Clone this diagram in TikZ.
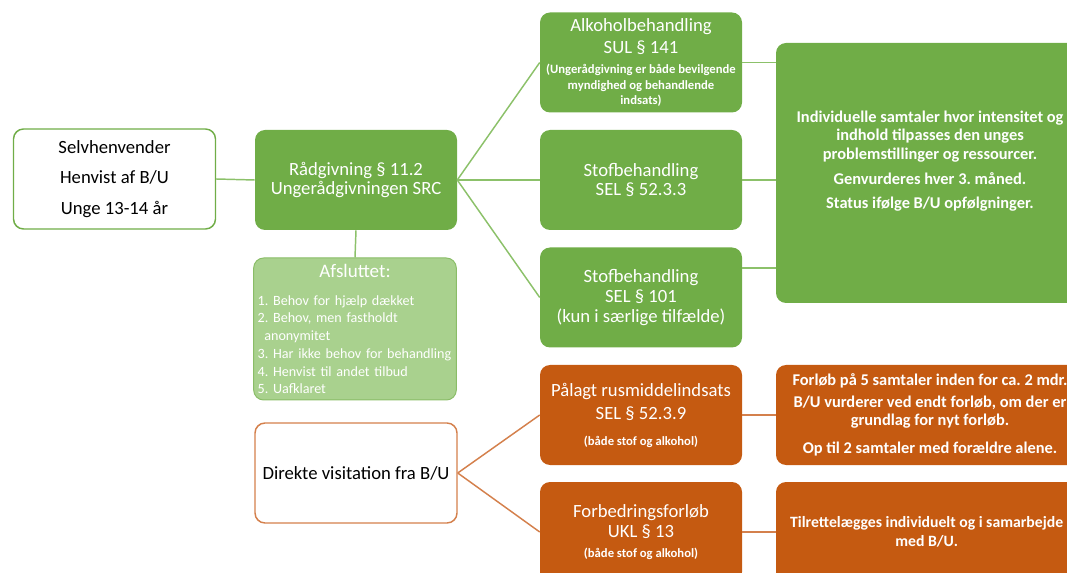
\documentclass[tikz,border=0pt]{standalone}
\usepackage{fontspec}
\setmainfont{Carlito}
\usetikzlibrary{positioning}

\definecolor{grn}{HTML}{70AD47}
\definecolor{lgrn}{HTML}{A9D18E}
\definecolor{orng}{HTML}{C55A11}
\definecolor{grnline}{HTML}{8CC16A}
\definecolor{orline}{HTML}{D4804C}

\newcommand{\smtxt}[1]{{\fontsize{9.5}{11}\selectfont\bfseries #1}}

\tikzset{
  box/.style={rounded corners=7.5pt, minimum width=151.5pt, minimum height=75pt,
    align=center, inner sep=2pt, font=\fontsize{14}{14.5}\selectfont},
  gbox/.style={box, fill=grn, text=white},
  obox/.style={box, fill=orng, text=white},
  wbox/.style={box, fill=white, text=black, line width=1.1pt},
  widebox/.style={rounded corners=7.5pt, minimum width=231pt, text=white},
  infotxt/.style={align=center, text=white, font=\fontsize{12.3}{14}\selectfont\bfseries},
  gline/.style={draw=grnline, line width=1.1pt},
  oline/.style={draw=orline, line width=1.1pt},
}

\begin{document}
\frenchspacing
\begin{tikzpicture}[x=0.75pt,y=-0.75pt]
\useasboundingbox (0,0) rectangle (1067,573);
\clip (0,0) rectangle (1067,573);

% left column
\node[wbox, draw=grn] (sel) at (114.5,179) {Selvhenvender\\[8.5pt] Henvist af B/U\\[8.5pt] Unge 13-14 år};
\node[gbox] (raad) at (356,180) {Rådgivning § 11.2\\ Ungerådgivningen SRC};
\node[box, fill=lgrn, draw=grn!55!lgrn, line width=0.75pt, text=white, align=left,
  text width=146pt, inner xsep=3pt, minimum height=106.5pt,
  font=\fontsize{10.6}{13.3}\selectfont] (afs) at (355,329)
  {\makebox[146pt][c]{\fontsize{14.3}{14}\selectfont Afsluttet:}\\[7.7pt]
   1. Behov for hjælp dækket\\
   2. Behov, men fastholdt\\
   \hspace*{5pt}anonymitet\\
   3. Har ikke behov for behandling\\
   4. Henvist til andet tilbud\\
   5. Uafklaret};
\node[wbox, draw=orline] (dir) at (356,473) {Direkte visitation fra B/U};

% middle column
\node[gbox] (alko) at (641,62.5) {Alkoholbehandling\\[2pt] SUL § 141\\[0.5pt]
  \smtxt{(Ungerådgivning er både bevilgende}\\[-2.5pt]
  \smtxt{myndighed og behandlende}\\[-3pt]
  \smtxt{indsats)}};
\node[gbox] (stof1) at (641,180) {Stofbehandling\\ SEL § 52.3.3};
\node[gbox] (stof2) at (641,297.5) {Stofbehandling\\[0.5pt] SEL § 101\\[0.5pt] (kun i særlige tilfælde)};
\node[obox] (paa) at (641,415) {Pålagt rusmiddelindsats\\[2.75pt] SEL § 52.3.9\\[5pt]
  \smtxt{(både stof og alkohol)}};
\node[obox] (forb) at (641,532) {Forbedringsforløb\\[0.5pt] UKL § 13\\[0.5pt]
  \smtxt{(både stof og alkohol)}};

% right column
\node[widebox, fill=grn, minimum height=195pt] (gbig) at (930,173) {};
\node[infotxt] (gtxt) at ([yshift=9pt]gbig.center)
  {Individuelle samtaler hvor intensitet og\\[-0.5pt]
   indhold tilpasses den unges\\
   problemstillinger og ressourcer.\\[4.5pt]
   Genvurderes hver 3. måned.\\[4pt]
   Status ifølge B/U opfølgninger.};
\node[widebox, fill=orng, minimum height=75pt, infotxt] (otop) at (930,415)
  {Forløb på 5 samtaler inden for ca. 2 mdr.\\[2.5pt]
   B/U vurderer ved endt forløb, om der er\\
   grundlag for nyt forløb.\\[7pt]
   Op til 2 samtaler med forældre alene.};
\node[widebox, fill=orng, minimum height=75pt] (obot) at (930,532) {};
\node[infotxt, font=\fontsize{11.8}{14}\selectfont\bfseries] (obtxt) at ([xshift=-2.5pt]obot.center)
  {Tilrettelægges individuelt og i samarbejde\\ med B/U.};

% connectors
\draw[gline] (sel.east) -- (raad.west);
\draw[gline] (raad.east) -- (alko.west);
\draw[gline] (raad.east) -- (stof1.west);
\draw[gline] (raad.east) -- (stof2.west);
\draw[gline] (raad.south) -- (afs.north);
\draw[gline] (alko.east) -- (alko.east -| gbig.west);
\draw[gline] (stof1.east) -- (stof1.east -| gbig.west);
\draw[gline] ([yshift=22pt]stof2.east) -- ([yshift=22pt]stof2.east -| gbig.west);

\draw[oline] (dir.east) -- (paa.west);
\draw[oline] (dir.east) -- (forb.west);
\draw[oline] (paa.east) -- (paa.east -| otop.west);
\draw[oline] (forb.east) -- (forb.east -| obot.west);
\end{tikzpicture}
\end{document}
